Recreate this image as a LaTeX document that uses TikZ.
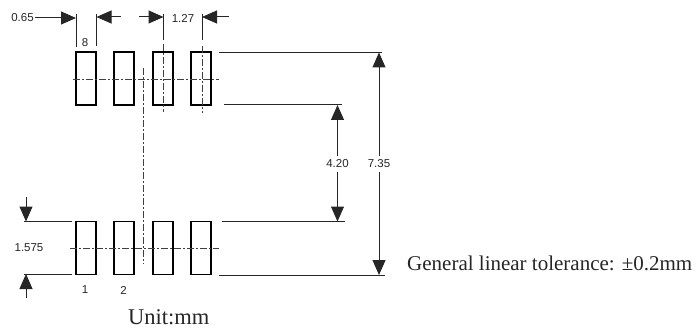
\documentclass[tikz,border=0pt]{standalone}
\usepackage{fontspec}
\setmainfont{Liberation Serif}
\setsansfont{Liberation Sans}
\usetikzlibrary{arrows.meta}
\tikzset{
  pad/.style={draw,rectangle,line width=1.7pt,minimum width=20pt,minimum height=53pt,inner sep=0pt},
  dimtext/.style={font=\sffamily\fontsize{11.5}{13}\selectfont,inner sep=1pt,text=black!85},
  notetext/.style={inner sep=0pt,text=black!85},
  extline/.style={line width=1pt,black!85},
  dimarrow/.style={line width=1pt,black!85,-{Triangle[length=15pt,width=13pt]}},
  center line/.style={line width=0.5pt,black!75,dash pattern=on 7pt off 2pt on 2pt off 2pt}
}
\begin{document}
\begin{tikzpicture}[x=1pt,y=-1pt]
            \useasboundingbox (0,0) rectangle (697,329);
            % pads
            \node[pad] (p8) at (86,78.5) {};
            \node[pad] (p7) at (124,78.5) {};
            \node[pad] (p6) at (163,78.5) {};
            \node[pad] (p5) at (201,78.5) {};
            \node[pad] (p1) at (86,248) {};
            \node[pad] (p2) at (124,248) {};
            \node[pad] (p3) at (163,248) {};
            \node[pad] (p4) at (201,248) {};
            %
            \node[dimtext] (n8) at (85,43) {8};
            \node[dimtext] (n1) at (85,290) {1};
            \node[dimtext] (n2) at (123.5,290) {2};
            \node[dimtext] (d065) at (22.5,18) {0.65};
            \node[dimtext] (d127) at (183,18) {1.27};
            \node[dimtext] (d1575) at (29,248) {1.575};
            \node[dimtext,inner ysep=4pt] (d420) at (337.5,164) {4.20};
            \node[dimtext,inner ysep=4pt] (d735) at (379,164) {7.35};
            \node[notetext,anchor=base west,font=\fontsize{21}{24}\selectfont] (tol) at (407,270) {General linear tolerance: ±0.2mm};
            \node[notetext,anchor=base west,font=\fontsize{22.5}{25}\selectfont] (unit) at (128,324.5) {Unit:mm};
            % center lines
            \coordinate (ca) at (73,79.5);
            \coordinate (cb) at (219,79.5);
            \coordinate (cc) at (70,248);
            \coordinate (cd) at (219,248);
            \coordinate (ce) at (143.5,68);
            \coordinate (cf) at (143.5,264);
            \coordinate (cg) at (163.5,44);
            \coordinate (ch) at (163.5,112);
            \coordinate (ci) at (202,46);
            \coordinate (cj) at (202,113);
            \draw[center line] (ca) -- (cb);
            \draw[center line] (cc) -- (cd);
            \draw[center line] (ce) -- (cf);
            \draw[center line] (cg) -- (ch);
            \draw[center line] (ci) -- (cj);
            % extension lines on top
            \coordinate (ea) at (76,14);
            \coordinate (eb) at (76,47);
            \coordinate (ec) at (96.5,14);
            \coordinate (ed) at (96.5,46);
            \coordinate (ee) at (163.5,14);
            \coordinate (ef) at (163.5,40);
            \coordinate (eg) at (202,14);
            \coordinate (eh) at (202,40);
            \draw[extline] (ea) -- (eb);
            \draw[extline] (ec) -- (ed);
            \draw[extline] (ee) -- (ef);
            \draw[extline] (eg) -- (eh);
            % extension lines on the right
            \coordinate (ra) at (219,52.5);
            \coordinate (rb) at (382,52.5);
            \coordinate (rc) at (224,105);
            \coordinate (rd) at (342,105);
            \coordinate (re) at (222,221.5);
            \coordinate (rf) at (345,221.5);
            \coordinate (rg) at (219,275);
            \coordinate (rh) at (385,275);
            \draw[extline] (ra) -- (rb);
            \draw[extline] (rc) -- (rd);
            \draw[extline] (re) -- (rf);
            \draw[extline] (rg) -- (rh);
            % extension lines on the left
            \coordinate (la) at (24,221.5);
            \coordinate (lb) at (72,221.5);
            \coordinate (lc) at (24,274);
            \coordinate (ld) at (72,274);
            \draw[extline] (la) -- (lb);
            \draw[extline] (lc) -- (ld);
            % dimension arrows
            \coordinate (aa) at (121,17);
            \coordinate (ab) at (139,17);
            \coordinate (ac) at (229,17);
            \coordinate (ad) at (26,197);
            \coordinate (ae) at (26,298);
            \draw[dimarrow] (d065) -- (ea |- d065);
            \draw[dimarrow] (aa) -- (ec |- aa);
            \draw[dimarrow] (ab) -- (ee |- ab);
            \draw[dimarrow] (ac) -- (eg |- ac);
            \draw[dimarrow] (ad) -- (ad |- la);
            \draw[dimarrow] (ae) -- (ae |- lc);
            \draw[dimarrow] (d420.north) -- (d420.north |- rd);
            \draw[dimarrow] (d420.south) -- (d420.south |- rf);
            \draw[dimarrow] (d735.north) -- (d735.north |- rb);
            \draw[dimarrow] (d735.south) -- (d735.south |- rh);
        \end{tikzpicture}
\end{document}
